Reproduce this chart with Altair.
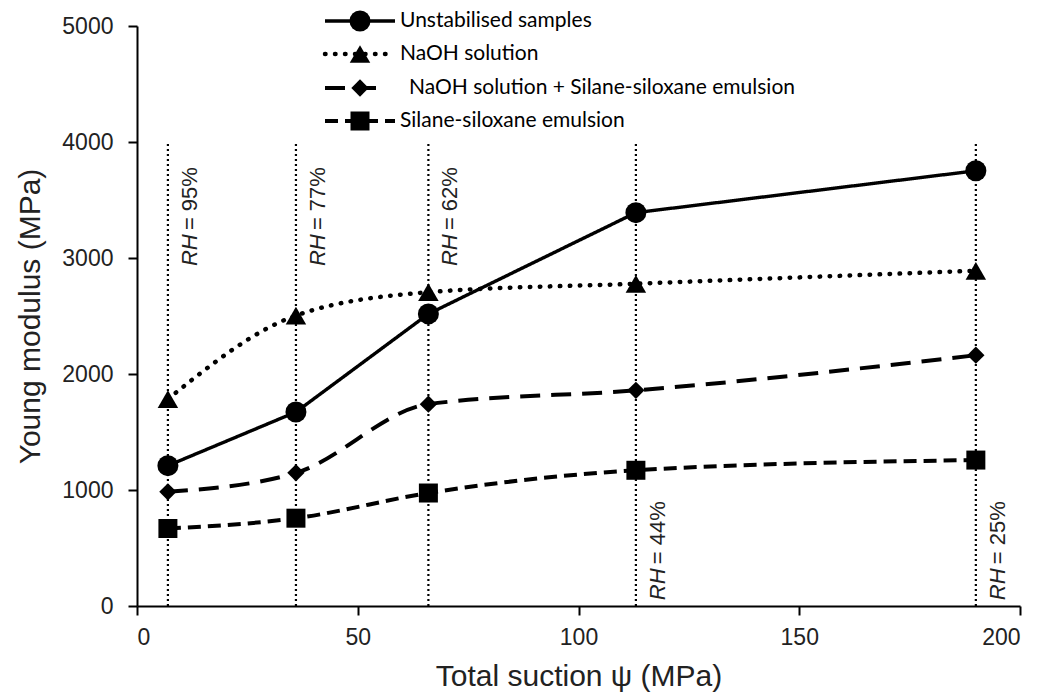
import altair as alt
import pandas as pd

# ---- data ----
suction = [7, 36, 66, 113, 190]
series_names = [
    "Unstabilised samples",
    "NaOH solution",
    "NaOH solution + Silane-siloxane emulsion",
    "Silane-siloxane emulsion",
]
unstabilised = [1210, 1672, 2518, 3391, 3752]
naoh = [1784, 2504, 2705, 2778, 2890]
naoh_silane = [984, 1148, 1740, 1859, 2162]
silane = [668, 757, 974, 1170, 1258]
rh_labels = ["95%", "77%", "62%", "44%", "25%"]
rh_top = 4000
rh_label_y = [2930, 2930, 2930, 50, 50]

values = [unstabilised, naoh, naoh_silane, silane]

# ---- styles ----
styles = [
    dict(shape="circle", size=441, dash=[1, 0], width=3.4, interp="linear", cap="butt"),
    dict(shape="triangle-up", size=420, dash=[0.5, 9.5], width=4.5, interp="monotone", cap="round"),
    dict(shape="diamond", size=300, dash=[20, 11], width=4, interp="monotone", cap="butt"),
    dict(shape="square", size=361, dash=[13, 7], width=4, interp="monotone", cap="butt"),
]
legend_rows = [-5, 28, 62, 95]
legend_text_x = [263, 263, 272, 263]
legend_line_end = [258, 258, 245, 258]
FONT = "Liberation Sans"
INK = "#222222"

x_enc = alt.X(
    "x:Q",
    scale=alt.Scale(domain=[0, 200], nice=False),
    axis=alt.Axis(values=[0, 50, 100, 150, 200], title="Total suction \u03c8 (MPa)",
                  labelPadding=11, titlePadding=12),
)
y_enc = alt.Y(
    "y:Q",
    scale=alt.Scale(domain=[0, 5000], nice=False),
    axis=alt.Axis(values=[0, 1000, 2000, 3000, 4000, 5000], format="d",
                  title="Young modulus (MPa)", labelPadding=15, titlePadding=16),
)

layers = []

# vertical RH lines
rh_df = pd.DataFrame({"x": suction, "y": [0] * 5, "y2": [rh_top] * 5,
                      "ly": rh_label_y, "rest": ["= " + l for l in rh_labels]})
layers.append(
    alt.Chart(rh_df).mark_rule(color="black", strokeWidth=2.2, strokeDash=[2, 3])
    .encode(x=x_enc, y=y_enc, y2="y2:Q")
)
layers.append(
    alt.Chart(rh_df).mark_text(angle=270, align="left", baseline="top", dy=12,
                               fontStyle="italic", fontSize=22, font=FONT, color=INK)
    .encode(x="x:Q", y="ly:Q", text=alt.value("RH"))
)
layers.append(
    alt.Chart(rh_df).mark_text(angle=270, align="left", baseline="top", dy=12, dx=36,
                               fontSize=22, font=FONT, color=INK)
    .encode(x="x:Q", y="ly:Q", text="rest:N")
)

# series
for name, vals, st in zip(series_names, values, styles):
    df = pd.DataFrame({"x": suction, "y": vals, "series": name})
    layers.append(
        alt.Chart(df).mark_line(color="black", strokeWidth=st["width"], strokeDash=st["dash"],
                                strokeCap=st["cap"], interpolate=st["interp"])
        .encode(x="x:Q", y="y:Q")
    )
    layers.append(
        alt.Chart(df).mark_point(filled=True, shape=st["shape"], size=st["size"],
                                 color="black", opacity=1)
        .encode(x="x:Q", y="y:Q")
    )

# manual legend
for name, st, ry, tx, le in zip(series_names, styles, legend_rows, legend_text_x, legend_line_end):
    ldf = pd.DataFrame({"label": [name]})
    layers.append(
        alt.Chart(ldf).mark_rule(color="black", strokeWidth=st["width"], strokeDash=st["dash"],
                                 strokeCap=st["cap"])
        .encode(x=alt.value(188), x2=alt.value(le), y=alt.value(ry))
    )
    layers.append(
        alt.Chart(ldf).mark_point(filled=True, shape=st["shape"], size=st["size"],
                                  color="black", opacity=1)
        .encode(x=alt.value(223), y=alt.value(ry))
    )
    layers.append(
        alt.Chart(ldf).mark_text(align="left", baseline="middle", fontSize=21, font="Lato",
                                 color="black")
        .encode(x=alt.value(tx), y=alt.value(ry), text="label:N")
    )

chart = (
    alt.layer(*layers)
    .properties(
        width=883,
        height=580,
        padding={"left": 129, "top": 18, "right": 20, "bottom": 86},
        autosize=alt.AutoSizeParams(type="none"),
    )
    .configure_view(stroke=None)
    .configure_axis(
        grid=False,
        domainColor="black",
        domainWidth=2,
        tickColor="black",
        tickWidth=2,
        tickSize=9,
        labelFont=FONT,
        labelFontSize=23,
        labelColor=INK,
        titleFont=FONT,
        titleFontSize=30,
        titleFontWeight="normal",
        titleColor=INK,
    )
)

chart.save("out.html", embed_options={"renderer": "svg", "actions": False})
